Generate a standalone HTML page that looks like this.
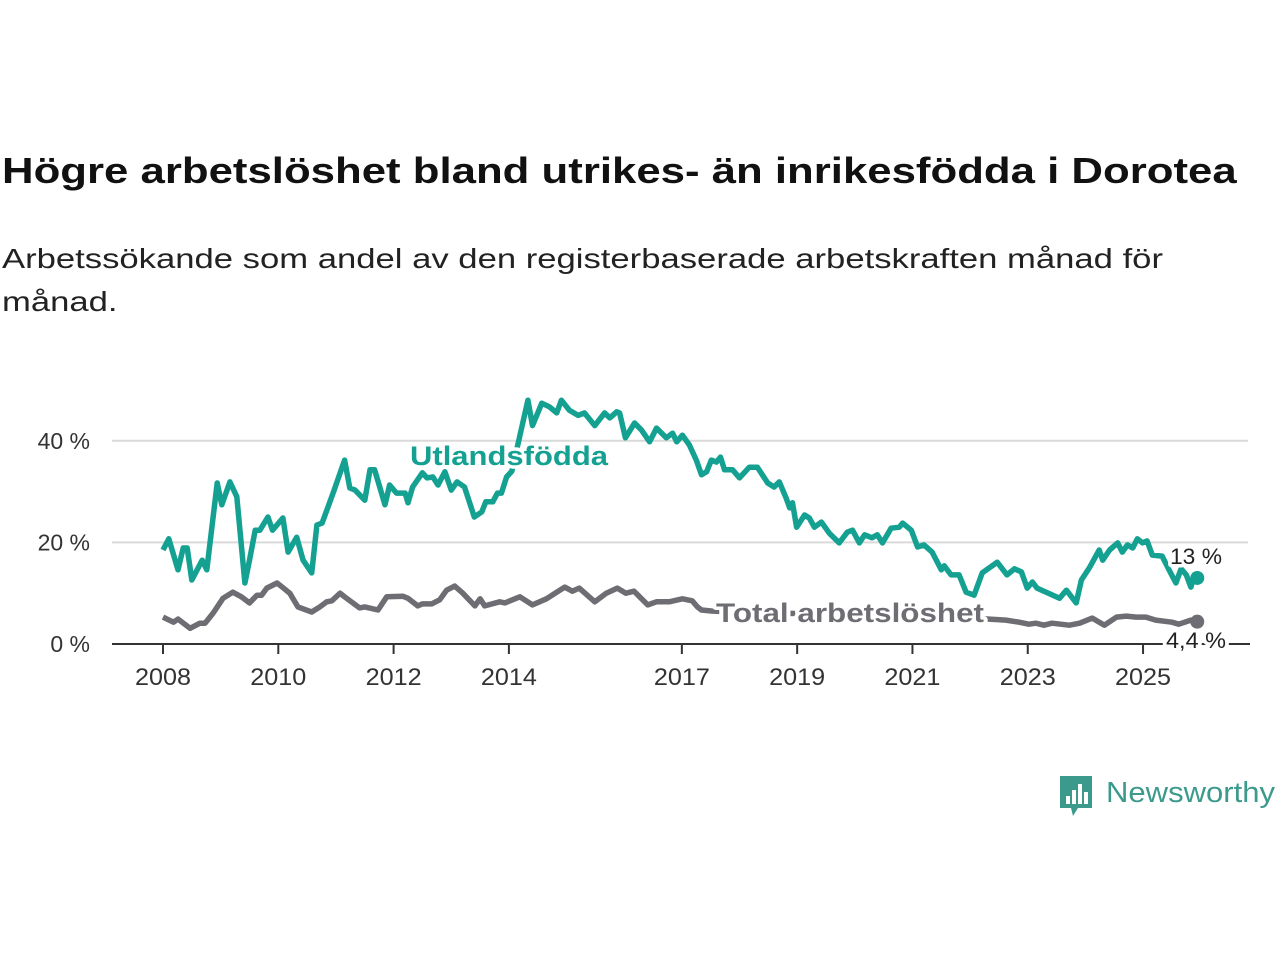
<!DOCTYPE html>
<html><head><meta charset="utf-8">
<style>
body{margin:0;background:#fff;width:1280px;height:960px;overflow:hidden;font-family:"Liberation Sans",sans-serif;}
.ln{position:absolute;left:2px;white-space:nowrap;margin:0;transform-origin:0 0}
#title{top:150px;font-size:36px;font-weight:bold;color:#111;transform:scaleX(1.215)}
#sub1{top:243px;font-size:28px;color:#222;transform:scaleX(1.237)}
#sub2{top:286px;font-size:28px;color:#222;transform:scaleX(1.237)}
svg{position:absolute;left:0;top:0}
</style></head><body>
<h1 id="title" class="ln">Högre arbetslöshet bland utrikes- än inrikesfödda i Dorotea</h1>
<p id="sub1" class="ln">Arbetssökande som andel av den registerbaserade arbetskraften månad för</p>
<p id="sub2" class="ln">månad.</p>
<svg id="chart" width="1280" height="960"></svg>
<script>
const utTimes=[2008.0,2008.1,2008.26,2008.35,2008.42,2008.5,2008.68,2008.76,2008.94,2009.02,2009.16,2009.28,2009.42,2009.5,2009.6,2009.68,2009.82,2009.9,2010.08,2010.17,2010.32,2010.43,2010.58,2010.67,2010.76,2010.95,2011.15,2011.24,2011.33,2011.5,2011.59,2011.67,2011.85,2011.93,2012.05,2012.2,2012.25,2012.33,2012.5,2012.58,2012.68,2012.77,2012.89,2013.0,2013.1,2013.23,2013.4,2013.53,2013.6,2013.72,2013.8,2013.87,2013.96,2014.05,2014.33,2014.41,2014.57,2014.7,2014.83,2014.91,2015.05,2015.2,2015.31,2015.49,2015.66,2015.75,2015.87,2015.92,2016.02,2016.18,2016.3,2016.44,2016.56,2016.73,2016.84,2016.91,2017.01,2017.13,2017.25,2017.34,2017.43,2017.51,2017.6,2017.67,2017.74,2017.88,2018.0,2018.17,2018.31,2018.49,2018.6,2018.69,2018.81,2018.87,2018.92,2018.99,2019.13,2019.21,2019.3,2019.42,2019.56,2019.73,2019.87,2019.96,2020.08,2020.17,2020.3,2020.39,2020.48,2020.63,2020.77,2020.83,2020.98,2021.09,2021.2,2021.34,2021.5,2021.55,2021.67,2021.81,2021.93,2022.07,2022.21,2022.47,2022.64,2022.77,2022.89,2022.99,2023.08,2023.16,2023.32,2023.55,2023.67,2023.84,2023.93,2024.07,2024.24,2024.3,2024.42,2024.56,2024.64,2024.73,2024.82,2024.9,2024.99,2025.07,2025.16,2025.33,2025.45,2025.57,2025.66,2025.75,2025.83,2025.88,2025.94];
const utValues=[18.5,20.7,14.6,18.9,18.9,12.6,16.5,14.6,31.7,27.4,31.9,29,12,16.5,22.4,22.4,25,22.4,24.8,18.1,21,16.5,14,23.4,23.8,29.7,36.2,30.7,30.3,28.3,34.3,34.3,27.4,31.3,29.7,29.7,27.8,30.9,33.7,32.7,32.9,31.3,33.9,30.3,31.9,30.9,25,26,28,28,29.7,29.7,32.9,34,48,43,47.4,46.7,45.5,48,46,45,45.5,43,45.5,44.5,45.7,45.5,40.6,43.5,42.1,39.8,42.5,40.6,41.5,39.8,41.1,39.2,36.2,33.3,33.9,36.2,35.8,36.8,34.3,34.3,32.7,34.8,34.8,31.7,30.9,31.9,28.7,26.8,27.8,23,25.4,24.8,23,24,21.8,19.9,22,22.4,19.9,21.5,20.9,21.5,19.9,22.8,23,23.8,22.4,19.1,19.5,18.1,14.6,15.4,13.6,13.6,10.2,9.6,14,16.1,13.6,14.8,14.2,11,12.2,11,10.2,9,10.6,8.1,12.6,15,18.5,16.5,18.5,19.9,18.1,19.5,18.9,20.7,19.9,20.3,17.5,17.3,14.6,12,14.8,13.6,11.2,13.2,13];
const totTimes=[2008.0,2008.18,2008.26,2008.47,2008.64,2008.73,2008.87,2009.04,2009.21,2009.36,2009.5,2009.63,2009.71,2009.8,2009.98,2010.07,2010.2,2010.34,2010.58,2010.72,2010.84,2010.93,2011.07,2011.15,2011.41,2011.5,2011.73,2011.88,2012.16,2012.25,2012.42,2012.5,2012.66,2012.8,2012.92,2013.06,2013.2,2013.41,2013.5,2013.58,2013.84,2013.93,2014.19,2014.41,2014.65,2014.97,2015.1,2015.22,2015.49,2015.69,2015.88,2016.03,2016.17,2016.41,2016.56,2016.78,2017.01,2017.18,2017.27,2017.34,2017.51,2018.0,2019.0,2020.0,2021.0,2022.0,2022.33,2022.62,2022.85,2023.02,2023.14,2023.28,2023.42,2023.72,2023.9,2024.12,2024.33,2024.54,2024.71,2024.88,2025.05,2025.22,2025.5,2025.62,2025.83,2025.94];
const totValues=[5.3,4.3,4.9,3.1,4.1,4.1,6.1,9,10.2,9.3,8.1,9.6,9.6,11,12,11.2,10,7.3,6.3,7.3,8.3,8.5,10,9.3,7.1,7.3,6.7,9.3,9.4,9,7.5,7.9,7.9,8.7,10.6,11.4,10,7.5,8.9,7.5,8.3,8.1,9.3,7.7,8.9,11.2,10.4,11,8.3,10,11,10,10.4,7.7,8.3,8.3,8.9,8.5,7.3,6.7,6.5,6.2,6,5.6,5.4,5.1,4.9,4.7,4.3,3.9,4.1,3.7,4.1,3.7,4.1,5.1,3.7,5.3,5.5,5.3,5.3,4.7,4.3,3.9,4.7,4.4];
const yTicks=[0,20,40];
const xTicks=[2008,2010,2012,2014,2017,2019,2021,2023,2025];

const NS="http://www.w3.org/2000/svg";
const svg=document.getElementById('chart');
const X=t=>163+(t-2008)*57.65;
const Y=v=>644-v*5.08;
function mk(tag,attrs,parent){const e=document.createElementNS(NS,tag);for(const k in attrs)e.setAttribute(k,attrs[k]);(parent||svg).appendChild(e);return e;}
const F='"Liberation Sans",sans-serif';
yTicks.forEach(v=>{
  if(v>0){const g=mk('line',{x1:112,x2:1248,y1:Y(v),y2:Y(v),stroke:'#d9d9d9','stroke-width':2});
  
  }
  const t=mk('text',{x:90,y:Y(v)+8,'text-anchor':'end','font-size':23,fill:'#333','font-family':F});t.textContent=v+' %';
  
  
});
const ax=mk('line',{x1:112,x2:1250,y1:644,y2:644,stroke:'#333','stroke-width':2});


xTicks.forEach(yr=>{
  const tk=mk('line',{x1:X(yr),x2:X(yr),y1:644,y2:654,stroke:'#333','stroke-width':2});
  
  
  const t=mk('text',{x:X(yr),y:685,'text-anchor':'middle','font-size':24,fill:'#333','font-family':F,textLength:56,lengthAdjust:'spacingAndGlyphs'});t.textContent=yr;
  
  
});
function path(ts,vs){return ts.map((t,i)=>(i?'L':'M')+X(t).toFixed(1)+','+Y(vs[i]).toFixed(1)).join('');}
const tl=mk('path',{d:path(totTimes,totValues),fill:'none',stroke:'#6e6d73','stroke-width':5.5,'stroke-linejoin':'round'});


const ul=mk('path',{d:path(utTimes,utValues),fill:'none',stroke:'#14a192','stroke-width':5.5,'stroke-linejoin':'round'});


const d1=mk('circle',{cx:X(utTimes[utTimes.length-1]),cy:Y(utValues[utValues.length-1]),r:7,fill:'#14a192'});


const d2=mk('circle',{cx:X(totTimes[totTimes.length-1]),cy:Y(totValues[totValues.length-1]),r:7,fill:'#6e6d73'});


function label(txt,x,y,size,fill,w,len,name){const t=mk('text',{x:x,y:y,'font-size':size,'font-weight':w,fill:fill,'font-family':F,stroke:'#fff','stroke-width':7,'paint-order':'stroke','stroke-linejoin':'round',textLength:len,lengthAdjust:'spacingAndGlyphs'});t.textContent=txt;
  
  return t;}
label('Utlandsfödda',410,465,27,'#14a192','bold',198,'utlandsfodda-label');
label('Total arbetslöshet',716,622,27,'#6e6d73','bold',268,'total-label');
label('13 %',1170,564,22,'#222','normal',52,'utlandsfodda-end-value');
label('4,4 %',1166,648,22,'#222','normal',60,'total-end-value');
const lg=mk('g',{});


mk('path',{d:'M1060,776 h32 v32 h-14 l-5,8 l-2,-8 h-11 z',fill:'#3c9a8d'},lg);
[[1066,796,4],[1072,790,4],[1078,784,4],[1084,792,4]].forEach(b=>mk('rect',{x:b[0],y:b[1],width:b[2],height:804-b[1],fill:'#fff'},lg));
const lt=mk('text',{x:1106,y:802,'font-size':29,fill:'#3c9a8d','font-family':F,textLength:169,lengthAdjust:'spacingAndGlyphs'},lg);lt.textContent='Newsworthy';
</script>
</body></html>
